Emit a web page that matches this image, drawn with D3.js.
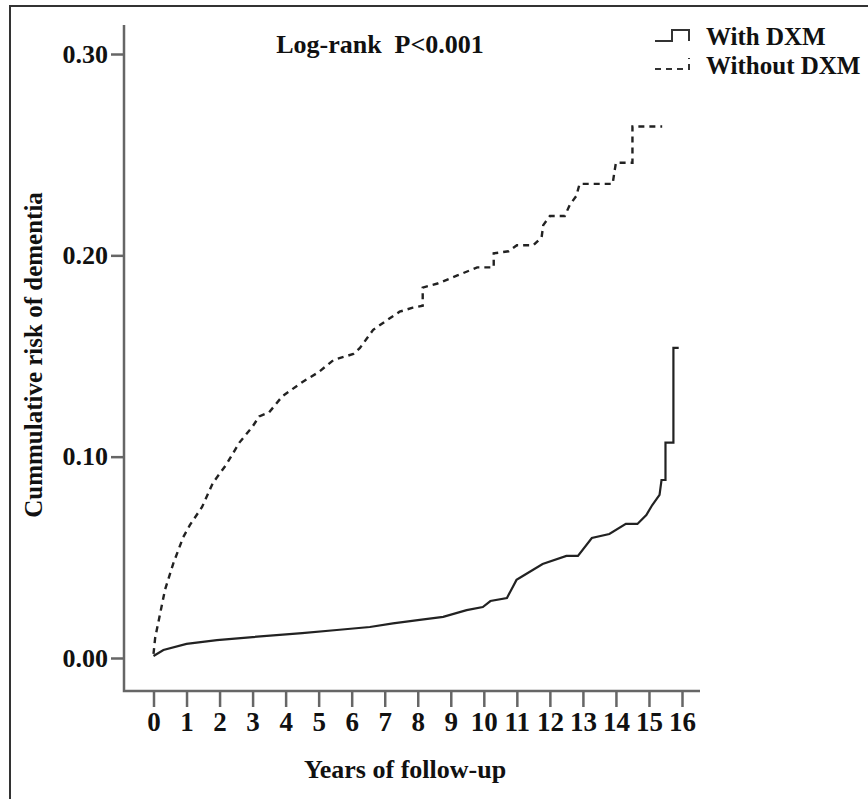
<!DOCTYPE html>
<html>
<head>
<meta charset="utf-8">
<script src="https://cdn.jsdelivr.net/npm/d3@7"></script>
<style>
  body { margin: 0; background: #fff; }
  text { font-family: "Liberation Serif", "Times New Roman", serif; font-weight: bold; fill: #111; }
</style>
</head>
<body>
<div id="chart"></div>
<script>
// Years of follow-up and cumulative risk
var withTime = [0, 0.3, 1.0, 1.92, 3.0, 4.5, 5.55, 6.55, 7.25, 8.06, 8.77, 9.48, 9.97, 10.2, 10.7, 10.99, 11.18, 11.78, 12.5, 12.85, 13.27, 13.8, 14.3, 14.65, 14.92, 15.1, 15.32, 15.38, 15.5, 15.5, 15.74, 15.74, 15.9];
var withRisk = [0.001, 0.004, 0.007, 0.0089, 0.0104, 0.0124, 0.0139, 0.0154, 0.0172, 0.0189, 0.0204, 0.0238, 0.0253, 0.0283, 0.0298, 0.0388, 0.0407, 0.0467, 0.0507, 0.0507, 0.0596, 0.0616, 0.0666, 0.0666, 0.071, 0.076, 0.081, 0.0884, 0.0884, 0.107, 0.107, 0.154, 0.154];

var withoutTime = [0, 0.05, 0.2, 0.35, 0.6, 0.9, 1.1, 1.47, 1.8, 2.2, 2.6, 3.0, 3.2, 3.5, 3.9, 4.5, 5.0, 5.45, 6.05, 6.25, 6.65, 7.0, 7.45, 7.85, 8.15, 8.15, 8.6, 9.2, 9.8, 10.3, 10.3, 10.75, 11.0, 11.5, 11.75, 11.8, 12.0, 12.45, 12.6, 12.8, 12.9, 13.9, 13.95, 14.0, 14.5, 14.5, 15.4];
var withoutRisk = [0.002, 0.010, 0.022, 0.034, 0.047, 0.060, 0.066, 0.075, 0.087, 0.096, 0.107, 0.115, 0.120, 0.122, 0.130, 0.137, 0.142, 0.148, 0.151, 0.154, 0.163, 0.167, 0.172, 0.174, 0.175, 0.184, 0.186, 0.190, 0.194, 0.194, 0.201, 0.202, 0.205, 0.205, 0.209, 0.215, 0.2195, 0.2195, 0.225, 0.2295, 0.2355, 0.2355, 0.241, 0.246, 0.246, 0.264, 0.264];

var xTicks = d3.range(0, 17);
var yTicks = [0, 0.10, 0.20, 0.30];

var svgWidth = 868;
var svgHeight = 799;

var svg = d3.select("#chart")
  .append("svg")
  .attr("width", svgWidth)
  .attr("height", svgHeight);

// outer frame (only left and top edges show)
svg.append("path")
  .attr("d", "M10,799V6H868")
  .attr("fill", "none")
  .attr("stroke", "#333")
  .attr("stroke-width", 2);

var axisX = 124;   // where the y axis line sits
var axisY = 691;   // where the x axis line sits

var x = d3.scaleLinear().domain([0, 16]).range([153.5, 682]);
var y = d3.scaleLinear().domain([0, 0.30]).range([658, 54]);

// y axis
var yAxis = svg.append("g")
  .attr("transform", `translate(${axisX},0)`)
  .call(d3.axisLeft(y).tickValues(yTicks).tickFormat(d3.format(".2f")).tickSize(13).tickSizeOuter(0).tickPadding(3));
yAxis.select(".domain").remove();
yAxis.selectAll(".tick line").attr("stroke", "#666").attr("stroke-width", 2.5);
yAxis.selectAll(".tick text").style("font-size", "26px").style("font-family", "Liberation Serif, serif").style("font-weight", "bold").attr("fill", "#111");

// x axis
var xAxis = svg.append("g")
  .attr("transform", `translate(0,${axisY})`)
  .call(d3.axisBottom(x).tickValues(xTicks).tickSize(16).tickSizeOuter(0).tickPadding(5));
xAxis.select(".domain").remove();
xAxis.selectAll(".tick line").attr("stroke", "#666").attr("stroke-width", 2.5);
xAxis.selectAll(".tick text").style("font-size", "27px").style("font-family", "Liberation Serif, serif").style("font-weight", "bold").attr("fill", "#111");

// axis lines
svg.append("path")
  .attr("d", `M${axisX},25V${axisY}H700`)
  .attr("fill", "none")
  .attr("stroke", "#666")
  .attr("stroke-width", 2.5);

// curves
var line = d3.line()
  .x(d => x(d[0]))
  .y(d => y(d[1]));

var withData = withTime.map((t, i) => [t, withRisk[i]]);
var withoutData = withoutTime.map((t, i) => [t, withoutRisk[i]]);

svg.append("path")
  .datum(withoutData)
  .attr("d", line)
  .attr("fill", "none")
  .attr("stroke", "#222")
  .attr("stroke-width", 2.4)
  .attr("stroke-dasharray", "6,5");

svg.append("path")
  .datum(withData)
  .attr("d", line)
  .attr("fill", "none")
  .attr("stroke", "#222")
  .attr("stroke-width", 2.2);

// title
svg.append("text")
  .attr("x", 380)
  .attr("y", 53)
  .attr("text-anchor", "middle")
  .style("font-size", "26px")
  .style("white-space", "pre")
  .text("Log-rank  P<0.001");

// legend
svg.append("path")
  .attr("d", "M655,41H672V30H689V41")
  .attr("fill", "none")
  .attr("stroke", "#333")
  .attr("stroke-width", 2);
svg.append("path")
  .attr("d", "M655,69H689V58")
  .attr("fill", "none")
  .attr("stroke", "#333")
  .attr("stroke-width", 2)
  .attr("stroke-dasharray", "6,5");
svg.append("text")
  .attr("x", 706)
  .attr("y", 45)
  .style("font-size", "25px")
  .text("With DXM");
svg.append("text")
  .attr("x", 706)
  .attr("y", 74)
  .style("font-size", "25px")
  .text("Without DXM");

// axis titles
svg.append("text")
  .attr("transform", "translate(42,355) rotate(-90)")
  .attr("text-anchor", "middle")
  .style("font-size", "25px")
  .text("Cummulative risk of dementia");

svg.append("text")
  .attr("x", 405)
  .attr("y", 778)
  .attr("text-anchor", "middle")
  .style("font-size", "26px")
  .text("Years of follow-up");
</script>
</body>
</html>
